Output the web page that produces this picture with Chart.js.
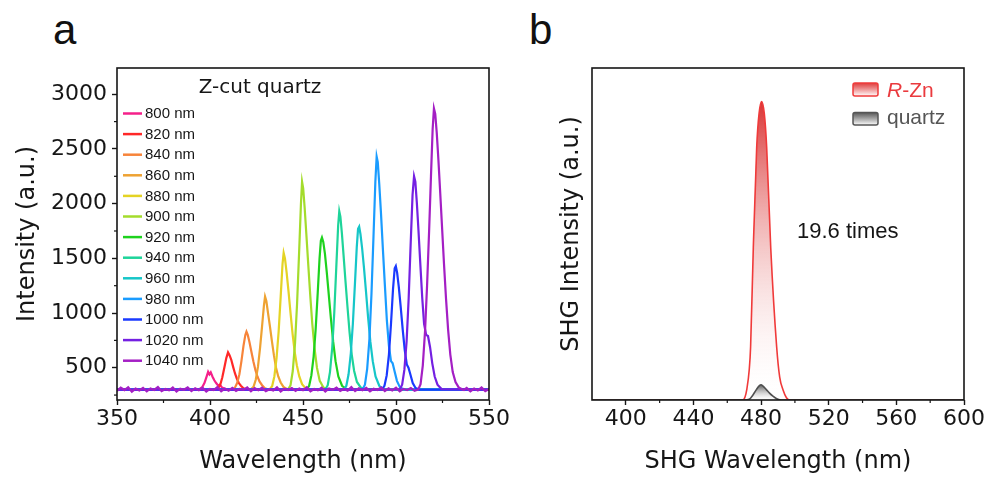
<!DOCTYPE html>
<html><head><meta charset="utf-8">
<script src="https://cdn.jsdelivr.net/npm/chart.js@4.4.1/dist/chart.umd.min.js"></script>
<style>
html,body{margin:0;padding:0;background:#fff;width:992px;height:479px;overflow:hidden;position:relative}
canvas{position:absolute;top:0}
#ca{left:0}
#cb{left:520px}
.lbl{position:absolute;font-family:"Liberation Sans",Arial,sans-serif;font-size:42px;color:#111;line-height:1}
</style></head><body>
<div class="lbl" style="left:53px;top:9px">a</div>
<div class="lbl" style="left:529px;top:9px">b</div>
<canvas id="ca" width="520" height="479"></canvas>
<canvas id="cb" width="472" height="479"></canvas>
<script>
// ---------- Panel a data ----------
const seriesLabels = ['800 nm','820 nm','840 nm','860 nm','880 nm','900 nm','920 nm','940 nm','960 nm','980 nm','1000 nm','1020 nm','1040 nm'];
const seriesColors = ['#f5208a','#ff2828','#f7843a','#eea232','#e4d324','#a4dc2c','#1ed21e','#1ed49a','#16c6c8','#1a9cff','#1a3aff','#7420e2','#a41fc4'];
const legendTitleA = 'Z-cut quartz';
const xTicksA = [350,400,450,500,550];
const xMinorA = [375,425,475,525];
const yTicksA = [500,1000,1500,2000,2500,3000];
const yMinorA = [250,750,1250,1750,2250,2750];

const s800 = [[350,300],[380,302],[393,299],[394.5,306],[395.8,322],[397,360],[398,410],[399,462],[399.7,440],[400.4,458],[401.3,420],[402.3,385],[403.3,360],[404.3,338],[405.3,345],[406.5,318],[408.5,304],[430,298],[470,301],[550,300]];
const s820 = [[350,300],[390,299],[403,301],[404.3,312],[405.5,345],[406.6,410],[407.7,500],[408.8,590],[409.7,640],[410.5,615],[411.4,575],[412.4,510],[413.4,450],[414.4,400],[415.5,360],[416.6,335],[418,312],[420,301],[450,301],[550,300]];
const s840 = [[350,300],[400,301],[412,300],[413.4,318],[414.6,360],[415.8,440],[416.9,560],[418,700],[419,800],[419.6,830],[420.3,800],[421.2,735],[422.2,650],[423.3,560],[424.4,480],[425.5,420],[426.6,375],[428,340],[429.5,312],[431.5,300],[460,300],[550,300]];
const s860 = [[350,300],[410,300],[422,302],[423.4,325],[424.6,390],[425.8,510],[426.9,680],[428,880],[429,1070],[429.6,1150],[430.3,1110],[431.2,1000],[432.2,880],[433.3,740],[434.4,610],[435.5,500],[436.7,420],[438,365],[439.5,325],[441.5,303],[470,300],[550,300]];
const s880 = [[350,300],[420,300],[432,302],[433.4,330],[434.6,420],[435.8,590],[436.9,830],[438,1150],[439,1450],[439.6,1550],[440.3,1500],[441.2,1370],[442.2,1200],[443.3,1000],[444.4,810],[445.5,650],[446.7,520],[448,420],[449.5,350],[451.5,310],[454,300],[550,300]];
const s900 = [[350,300],[430,301],[442,302],[443.3,340],[444.5,470],[445.7,720],[446.8,1080],[447.9,1550],[448.9,2000],[449.5,2200],[450.1,2140],[450.9,1960],[451.8,1720],[452.8,1450],[453.9,1160],[455,900],[456.2,680],[457.5,500],[459,380],[461,320],[463.5,300],[550,300]];
const s920 = [[350,300],[440,300],[452,302],[453.3,335],[454.5,430],[455.7,600],[456.8,850],[457.9,1180],[458.9,1500],[459.6,1660],[460.2,1690],[460.9,1650],[461.8,1540],[462.8,1370],[463.9,1160],[465,950],[466.2,740],[467.5,560],[469,420],[471,335],[473.5,302],[550,300]];
const s940 = [[350,300],[450,300],[462,301],[463.3,340],[464.5,460],[465.7,680],[466.8,1000],[467.9,1420],[468.9,1800],[469.5,1930],[470.1,1880],[470.9,1730],[471.8,1530],[472.8,1300],[473.9,1060],[475,830],[476.2,620],[477.5,470],[479,370],[481,320],[483.5,300],[550,300]];
const s960 = [[350,300],[460,300],[472,302],[473.3,335],[474.5,440],[475.7,630],[476.8,900],[477.9,1260],[478.9,1600],[479.6,1770],[480.2,1790],[480.9,1720],[481.8,1590],[482.8,1410],[483.9,1190],[485,960],[486.2,740],[487.5,560],[489,420],[491,335],[493.5,302],[550,300]];
const s980 = [[350,300],[470,300],[482,302],[483.3,345],[484.5,490],[485.7,760],[486.8,1170],[487.9,1700],[488.9,2200],[489.6,2430],[490.2,2380],[491,2180],[491.9,1920],[492.9,1600],[494,1260],[495.1,930],[496.2,700],[497.3,560],[498.2,540],[499.2,470],[500.5,380],[502,325],[504,302],[550,300]];
const s1000 = [[350,300],[480,300],[492.5,302],[493.8,335],[495,430],[496.2,620],[497.3,900],[498.4,1220],[499.3,1410],[499.9,1430],[500.6,1370],[501.5,1240],[502.5,1060],[503.6,850],[504.7,660],[505.8,530],[506.7,500],[507.7,440],[509,360],[510.5,315],[512.5,300],[550,300]];
const s1020 = [[350,300],[490,300],[502,302],[503.3,345],[504.5,480],[505.7,740],[506.8,1130],[507.9,1640],[508.9,2080],[509.7,2250],[510.4,2200],[511.2,2010],[512.1,1750],[513.1,1440],[514.1,1140],[515.1,900],[516.2,800],[517.2,790],[518.3,690],[519.5,540],[520.8,420],[522.3,345],[524.5,305],[550,300]];
const s1040 = [[350,288],[352,318],[354,296],[356,322],[358,281],[360,309],[362,292],[364,315],[366,284],[368,311],[370,297],[372,324],[374,286],[376,305],[378,293],[380,319],[382,282],[384,308],[386,299],[388,321],[390,287],[392,312],[394,294],[396,317],[398,283],[400,306],[402,296],[404,323],[406,285],[408,310],[410,291],[412,316],[414,288],[416,307],[418,298],[420,320],[422,284],[424,313],[426,295],[428,318],[430,286],[432,304],[434,292],[436,321],[438,283],[440,309],[442,297],[444,315],[446,289],[448,311],[450,294],[452,322],[454,285],[456,306],[458,293],[460,317],[462,282],[464,310],[466,298],[468,319],[470,288],[472,305],[474,291],[476,323],[478,286],[480,312],[482,295],[484,316],[486,284],[488,308],[490,297],[492,320],[494,287],[496,311],[498,293],[500,318],[502,285],[504,307],[506,296],[508,314],[510,289],[512,302],
  [513.2,350],[514.4,520],[515.6,830],[516.7,1250],[517.8,1750],[518.8,2250],[519.7,2680],[520.4,2870],[521.1,2820],[521.9,2650],[522.8,2400],[523.8,2090],[524.8,1770],[525.8,1450],[526.9,1130],[528,850],[529.2,620],[530.5,460],[532,370],[533.7,320],[535.5,303],
  [536.5,297],[538,316],[540,284],[542,309],[544,293],[546,320],[548,287],[550,305]];
const seriesA = [s800,s820,s840,s860,s880,s900,s920,s940,s960,s980,s1000,s1020,s1040];

// ---------- Panel b data ----------
const xTicksB = [400,440,480,520,560,600];
const xMinorB = [420,460,500,540,580];
const labelRZn = ['R','-Zn'];
const labelQuartz = 'quartz';
const ratioText = '19.6 times';
const rZn = [[380,0],[440,0],[469,0],[470.5,0.2],[471.5,0.66],[473,2.0],[473.8,3.5],[475.4,10],[477.4,16.6],[478.8,18.8],[480.3,19.6],[481.9,18.8],[483.3,16.6],[485.7,10],[489.2,3.5],[491,1.5],[493,0.66],[495,0.15],[497,0],[540,0],[600,0]];
const quartzB = [[380,0],[440,0],[470,0],[473,0.05],[475,0.3],[477,0.65],[479,0.95],[480,1.0],[481,0.93],[483,0.7],[485,0.45],[487,0.25],[489,0.1],[491,0.02],[493,0],[540,0],[600,0]];
const peakRZn = 19.6, peakQuartz = 1.0;

// ---------- shared plugins ----------
const TXT = '#161616';
const framePlugin = {
  id:'frame',
  afterDraw(chart, args, opts){
    const c = chart.ctx, a = chart.chartArea;
    c.save();
    c.strokeStyle = TXT; c.lineWidth = 1.2;
    (opts.x||[]).forEach(v=>{ const px = chart.scales.x.getPixelForValue(v); c.beginPath(); c.moveTo(px,a.bottom); c.lineTo(px,a.bottom+3); c.stroke(); });
    (opts.y||[]).forEach(v=>{ const py = chart.scales.y.getPixelForValue(v); c.beginPath(); c.moveTo(a.left,py); c.lineTo(a.left-3,py); c.stroke(); });
    c.lineWidth = 1.6;
    c.strokeRect(a.left, a.top, a.right-a.left, a.bottom-a.top);
    c.restore();
  }
};

function ticksFrom(arr){ return s => { s.ticks = arr.map(v=>({value:v})); }; }

// ---------- Chart a ----------
const legendA = {
  id:'legendA',
  afterDraw(chart){
    const c = chart.ctx; c.save();
    c.fillStyle = TXT; c.textBaseline = 'middle';
    c.font = '20px "DejaVu Sans"'; c.textAlign = 'center';
    c.fillText(legendTitleA, 260, 88);
    c.font = '15px "Liberation Sans"'; c.textAlign = 'left';
    seriesLabels.forEach((lab,i)=>{
      const y = 113.5 + i*20.6;
      c.strokeStyle = seriesColors[i]; c.lineWidth = 2.5;
      c.beginPath(); c.moveTo(123,y); c.lineTo(142,y); c.stroke();
      c.fillText(lab, 145, y+0.5);
    });
    c.restore();
  }
};

new Chart(document.getElementById('ca'), {
  type:'line',
  data:{ datasets: seriesA.map((d,i)=>({
    label: seriesLabels[i], data: d, borderColor: seriesColors[i], borderWidth: 2.2,
    pointRadius: 0, tension: 0, fill: false, order: seriesA.length-1-i
  }))},
  options:{
    responsive:false, animation:false, devicePixelRatio:1,
    layout:{ padding:{ left:0, top:68, right:31, bottom:0 } },
    plugins:{ legend:{display:false}, tooltip:{enabled:false}, frame:{ x:xMinorA, y:yMinorA } },
    scales:{
      x:{ type:'linear', min:350, max:550,
        afterBuildTicks: ticksFrom(xTicksA),
        afterFit: s => { s.height = 79; },
        grid:{ drawOnChartArea:false, drawTicks:true, tickLength:5, tickColor:TXT, tickWidth:1.4 },
        border:{ display:false },
        ticks:{ color:TXT, font:{ family:'DejaVu Sans', size:22 }, padding:1, maxRotation:0, callback: v => String(v) },
        title:{ display:true, text:'Wavelength (nm)', color:TXT, font:{ family:'DejaVu Sans', size:24, lineHeight:1 }, padding:{ top:0, bottom:5 } }
      },
      y:{ type:'linear', min:205, max:3240,
        afterBuildTicks: ticksFrom(yTicksA),
        afterFit: s => { s.width = 117; },
        grid:{ drawOnChartArea:false, drawTicks:true, tickLength:5, tickColor:TXT, tickWidth:1.4 },
        border:{ display:false },
        ticks:{ color:TXT, font:{ family:'DejaVu Sans', size:22 }, padding:5, callback: v => String(v) },
        title:{ display:true, text:'Intensity (a.u.)', color:TXT, font:{ family:'DejaVu Sans', size:24, lineHeight:1 }, padding:{ top:16, bottom:0 } }
      }
    }
  },
  plugins:[framePlugin, legendA]
});

// ---------- Chart b ----------
function vGrad(chart, value, top, bottom){
  const area = chart.chartArea;
  if(!area) return 'rgba(0,0,0,0)';
  const y0 = chart.scales.y.getPixelForValue(value);
  const g = chart.ctx.createLinearGradient(0, y0, 0, area.bottom);
  g.addColorStop(0, top); g.addColorStop(1, bottom);
  return g;
}
const legendB = {
  id:'legendB',
  afterDraw(chart){
    const c = chart.ctx; c.save();
    let g = c.createLinearGradient(0,83,0,96);
    g.addColorStop(0,'rgba(220,40,40,0.9)'); g.addColorStop(1,'rgba(255,255,255,1)');
    c.fillStyle = g; c.strokeStyle = '#f03a3a'; c.lineWidth = 1.5;
    c.beginPath(); c.roundRect(333,83,25,13,2); c.fill(); c.stroke();
    g = c.createLinearGradient(0,112.5,0,125);
    g.addColorStop(0,'rgba(70,70,70,0.9)'); g.addColorStop(1,'rgba(255,255,255,1)');
    c.fillStyle = g; c.strokeStyle = '#555';
    c.beginPath(); c.roundRect(333,112.5,25,12.5,2); c.fill(); c.stroke();
    c.textBaseline = 'alphabetic'; c.textAlign = 'left';
    c.fillStyle = '#ea3a3e';
    c.font = 'italic 21px "Liberation Sans"';
    c.fillText(labelRZn[0], 367, 97);
    const w = c.measureText(labelRZn[0]).width;
    c.font = '21px "Liberation Sans"';
    c.fillText(labelRZn[1], 367 + w, 97);
    c.fillStyle = '#555';
    c.fillText(labelQuartz, 367, 124);
    c.fillStyle = TXT;
    c.font = '22px "Liberation Sans"';
    c.fillText(ratioText, 277, 238);
    c.restore();
  }
};

new Chart(document.getElementById('cb'), {
  type:'line',
  data:{ datasets:[
    { label:'quartz', data: quartzB, borderColor:'#505050', borderWidth:1.6, pointRadius:0,
      cubicInterpolationMode:'monotone', fill:'origin', order:0,
      backgroundColor: ctx => vGrad(ctx.chart, peakQuartz, 'rgba(60,60,60,0.85)', 'rgba(255,255,255,0.2)') },
    { label:'R-Zn', data: rZn, borderColor:'#f03a3a', borderWidth:1.6, pointRadius:0,
      cubicInterpolationMode:'monotone', fill:'origin', order:1,
      backgroundColor: ctx => vGrad(ctx.chart, peakRZn, 'rgba(214,36,36,0.92)', 'rgba(255,255,255,0.05)') }
  ]},
  options:{
    responsive:false, animation:false, devicePixelRatio:1,
    layout:{ padding:{ left:0, top:68, right:28, bottom:0 } },
    plugins:{ legend:{display:false}, tooltip:{enabled:false}, frame:{ x:xMinorB, y:[] } },
    scales:{
      x:{ type:'linear', min:380, max:600,
        afterBuildTicks: ticksFrom(xTicksB),
        afterFit: s => { s.height = 79; },
        grid:{ drawOnChartArea:false, drawTicks:true, tickLength:5, tickColor:TXT, tickWidth:1.4 },
        border:{ display:false },
        ticks:{ color:TXT, font:{ family:'DejaVu Sans', size:22 }, padding:1, maxRotation:0, callback: v => String(v) },
        title:{ display:true, text:'SHG Wavelength (nm)', color:TXT, font:{ family:'DejaVu Sans', size:24, lineHeight:1 }, padding:{ top:0, bottom:5 } }
      },
      y:{ type:'linear', min:0, max:21.8,
        afterFit: s => { s.width = 72; },
        grid:{ display:false },
        border:{ display:false },
        ticks:{ display:false },
        title:{ display:true, text:'SHG Intensity (a.u.)', color:TXT, font:{ family:'DejaVu Sans', size:24, lineHeight:1 }, padding:{ top:40, bottom:0 } }
      }
    }
  },
  plugins:[framePlugin, legendB]
});
</script>
</body></html>
